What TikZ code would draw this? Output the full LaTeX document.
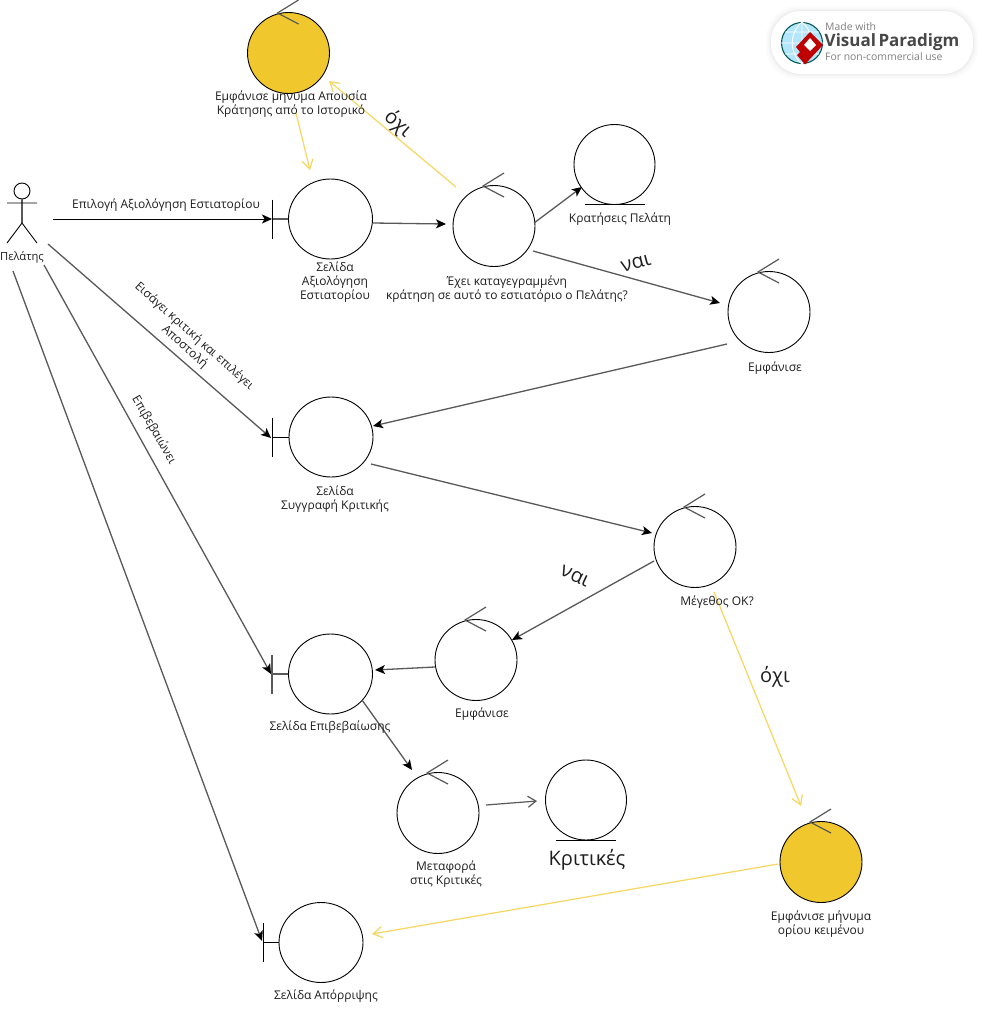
\documentclass[tikz,border=0pt]{standalone}
\usepackage{fontspec}
\setmainfont{Open Sans}
\usetikzlibrary{arrows.meta,shapes.geometric}
\definecolor{lineg}{HTML}{595959}
\definecolor{gold}{HTML}{F0C82E}
\definecolor{goldline}{HTML}{F7D75F}
\definecolor{txt}{HTML}{1E1E1E}
\tikzset{
  x=1pt,y=-1pt,
  every node/.style={text=txt,font=\fontsize{12}{14.3}\selectfont,align=center,inner sep=0pt},
  circ/.style={ellipse,draw=black,line width=.9pt,minimum width=82pt,minimum height=81pt,fill=white},
  goldcirc/.style={circ,fill=gold},
  bndcirc/.style={circ,minimum width=84pt,minimum height=80pt},
  tick/.style={draw=lineg,line width=1.2pt},
  bar/.style={draw=black,line width=.9pt},
  stemgray/.style={draw=lineg,line width=1.4pt},
  flow/.style={draw=lineg,line width=1.3pt,-{Stealth[length=10pt,width=9pt,inset=2.5pt,color=black]}},
  flowb/.style={draw=black,line width=1pt,-{Stealth[length=10pt,width=9pt,inset=2.5pt,color=black]}},
  openflow/.style={draw=lineg,line width=1.2pt,-{Straight Barb[length=8pt,width=11pt,color=lineg]}},
  noflow/.style={draw=goldline,line width=1.2pt,-{Straight Barb[length=9pt,width=11pt,color=goldline]}},
  big/.style={font=\fontsize{20}{23}\selectfont},
}
\newcommand{\ctrl}[4][circ]{%
  \node[#1] (#2) at (#3,#4) {};
  \draw[tick] (#3+10,#4-53) -- (#3-11,#4-40) -- (#3+10,#4-29);
}
% \bnd[bar style]{stem style}{name}{x}{y}{barx}
\newcommand{\bnd}[6][bar]{%
  \node[bndcirc] (#3) at (#4,#5) {};
  \draw[#2] (#6,#5) -- (#3.west);
  \draw[#1] (#6,#5-19.5) -- (#6,#5+19.5);
}
\newcommand{\ent}[3]{%
  \node[circ,minimum width=81pt,minimum height=80pt] (#1) at (#2,#3) {};
  \draw[bar] (#2-30,#3+40) -- (#2+30,#3+40);
}
\begin{document}
\begin{tikzpicture}
\useasboundingbox (0,0) rectangle (982,1015);
\fill[white] (0,0) rectangle (982,1015);
% watermark
\foreach \g/\o in {5/.012,3.5/.015,2/.02,1/.025}
  \fill[black,opacity=\o,rounded corners=31pt] (771-\g,11-\g) rectangle (973+\g,74+\g);
\fill[white,rounded corners=30pt] (771,11) rectangle (973,74);
\node[circle,draw=teal!70!black,line width=1.1pt,fill=cyan!30!white,minimum size=41pt] (globe) at (802,43) {};
\draw[white,line width=.9pt] (globe.north) -- (globe.south) (globe.west) -- (globe.east)
  (globe.north) .. controls (789,33) and (789,53) .. (globe.south)
  (globe.north) .. controls (815,33) and (815,53) .. (globe.south)
  (785,32) -- (819,32) (785,54) -- (819,54);
\fill[red!75!black] (810,32) -- (823,45) -- (809,60) -- (805,64.5) -- (797,55) -- (800,52) -- (796,47) -- cycle;
\fill[white] (810,38) -- (816,45) -- (810,51) -- (804,45) -- cycle;
\node[anchor=west,text=gray,font=\fontsize{10.4}{11}\selectfont] (vpa) at (825,27) {Made with};
\node[anchor=west,text=black!72,font=\fontsize{17}{18}\bfseries\selectfont] (vpb) at (824.5,42) {Visual\hspace{2.5pt}Paradigm};
\node[anchor=west,text=gray,font=\fontsize{10.4}{11}\selectfont] (vpc) at (825,57) {For non-commercial use};

% actor
\node[circle,draw=black,line width=.9pt,minimum size=16pt] (head) at (22,191) {};
\draw[draw=lineg,line width=1.4pt] (head.south) -- (22,223);
\draw[bar] (7,203) -- (37,203) (7,243) -- (22,223) -- (37,243);

% elements
\ctrl[goldcirc]{msgA}{288.5}{53}
\bnd{stemgray}{pageA}{330.5}{219}{272.5}
\ctrl{hasRes}{494}{226}
\ent{resv}{614.5}{164.5}
\ctrl{showA}{769}{312}
\bnd{bar}{pageW}{331}{437}{272.5}
\ctrl{sizeOk}{695}{547}
\ctrl{showB}{476}{660}
\bnd[stemgray]{stemgray}{pageC}{330.5}{674}{272}
\ctrl{move}{438}{813}
\ent{crit}{586}{800}
\ctrl[goldcirc]{msgB}{821}{862}
\bnd{bar}{pageR}{321}{942.5}{263}

% free connector ends
\coordinate (a1s) at (53,219); \coordinate (a1e) at (272,219);
\coordinate (a2s) at (48,244); \coordinate (a2e) at (271,438);
\coordinate (a3s) at (44,265); \coordinate (a3e) at (271,674);
\coordinate (a4s) at (13,271); \coordinate (a4e) at (262,941);
\coordinate (b1s) at (373,223); \coordinate (b1e) at (446,224);
\coordinate (b2s) at (534,223); \coordinate (b2e) at (582,187);
\coordinate (b3s) at (533,251); \coordinate (b3e) at (720,303);
\coordinate (b4s) at (727,344); \coordinate (b4e) at (373,426);
\coordinate (b5s) at (371,464); \coordinate (b5e) at (652,533);
\coordinate (b6s) at (654,561); \coordinate (b6e) at (512,640);
\coordinate (b7s) at (435,667); \coordinate (b7e) at (375,670);
\coordinate (b8s) at (362,700); \coordinate (b8e) at (412,770);
\coordinate (b9s) at (486,805); \coordinate (b9e) at (537,801);
\coordinate (y1s) at (296,113); \coordinate (y1e) at (310,170);
\coordinate (y2s) at (456,187); \coordinate (y2e) at (329,81);
\coordinate (y3s) at (714,592); \coordinate (y3e) at (801,806);
\coordinate (y4s) at (778,864); \coordinate (y4e) at (372,934);

\draw[flowb] (a1s) -- (a1e);
\draw[flow] (a2s) -- (a2e);
\draw[flow] (a3s) -- (a3e);
\draw[flow] (a4s) -- (a4e);
\draw[flow] (b1s) -- (b1e);
\draw[flow] (b2s) -- (b2e);
\draw[flow] (b3s) -- (b3e);
\draw[flow] (b4s) -- (b4e);
\draw[flow] (b5s) -- (b5e);
\draw[flow] (b6s) -- (b6e);
\draw[flow] (b7s) -- (b7e);
\draw[flow] (b8s) -- (b8e);
\draw[openflow] (b9s) -- (b9e);
\draw[noflow] (y1s) -- (y1e);
\draw[noflow] (y2s) -- (y2e);
\draw[noflow] (y3s) -- (y3e);
\draw[noflow] (y4s) -- (y4e);

% labels (all set 1px lower)
\begin{scope}[yshift=-1pt]
\node[font=\fontsize{11.2}{14}\selectfont] (actorlabel) at (22,256) {Πελάτης};
\node (lmsgA) at (291,103) {Εμφάνισε μηνυμα Απουσία\\Κράτησης από το Ιστορικό};
\node (lpageA) at (335,281) {Σελίδα\\Αξιολόγηση\\Εστιατορίου};
\node (lhas) at (507,288) {Έχει καταγεγραμμένη\\κράτηση σε αυτό το εστιατόριο ο Πελάτης?};
\node (lresv) at (620,218) {Κρατήσεις Πελάτη};
\node (lshowA) at (775,367) {Εμφάνισε};
\node (lpageW) at (335,498) {Σελίδα\\Συγγραφή Κριτικής};
\node (lsize) at (717,601) {Μέγεθος ΟΚ?};
\node (lshowB) at (482,713) {Εμφάνισε};
\node (lpageC) at (330,726) {Σελίδα Επιβεβαίωσης};
\node (lmove) at (446,873) {Μεταφορά\\στις Κριτικές};
\node[big] (lcrit) at (587,859) {Κριτικές};
\node (lmsgB) at (821,923) {Εμφάνισε μήνυμα\\ορίου κειμένου};
\node (lpageR) at (326,995) {Σελίδα Απόρριψης};
\node (t1) at (166,204) {Επιλογή Αξιολόγηση Εστιατορίου};
\node[rotate=-41.7] (t2) at (189.5,340.5) {Εισάγει κριτική και επιλέγει\\Αποστολή};
\node[rotate=-60] (t3) at (154,429) {Επιβεβαιώνει};
\node[big,rotate=-42] (t4) at (398,123) {όχι};
\node[big,rotate=15] (t5) at (636,262) {ναι};
\node[big,rotate=-25] (t6) at (575,575) {ναι};
\node[big] (t7) at (775,676) {όχι};
\end{scope}
\end{tikzpicture}
\end{document}
